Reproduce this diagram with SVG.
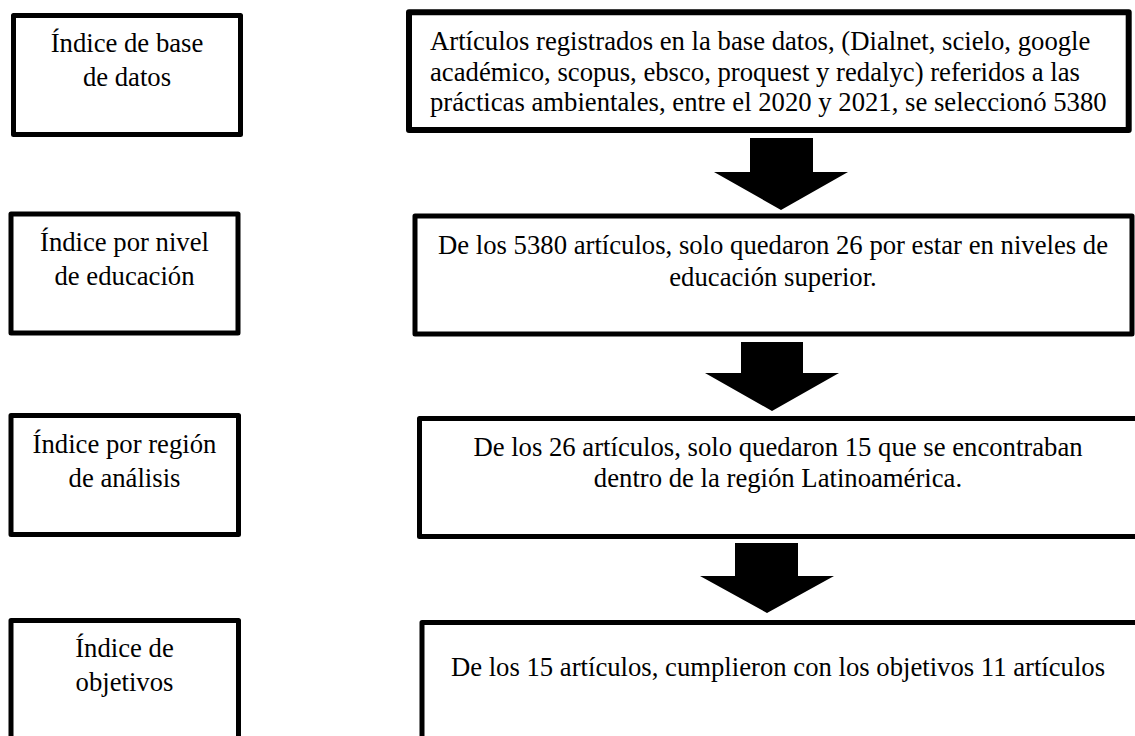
<svg xmlns="http://www.w3.org/2000/svg" width="1135" height="736" viewBox="0 0 1135 736">
<style>
.box{fill:#fff;stroke:#000;stroke-width:5;stroke-linejoin:round}
.t{font-family:"Liberation Serif","Times New Roman",serif;font-size:26.7px;fill:#000}
.c{text-anchor:middle}
.arrow{fill:#000;stroke:none}
</style>
<rect width="1135" height="736" fill="#fff"/>
<g id="left1">
<rect class="box" x="13.5" y="15.5" width="227" height="119"/>
<text class="t c" x="127" y="52">Índice de base</text>
<text class="t c" x="127" y="86">de datos</text>
</g>
<g id="left2">
<rect class="box" x="11" y="214" width="227" height="119"/>
<text class="t c" x="124.5" y="251">Índice por nivel</text>
<text class="t c" x="124.5" y="285">de educación</text>
</g>
<g id="left3">
<rect class="box" x="11" y="415.5" width="227.5" height="119"/>
<text class="t c" x="124.5" y="453">Índice por región</text>
<text class="t c" x="124.5" y="487">de análisis</text>
</g>
<g id="left4">
<rect class="box" x="11" y="620.5" width="227.5" height="140"/>
<text class="t c" x="124.5" y="657">Índice de</text>
<text class="t c" x="124.5" y="691">objetivos</text>
</g>
<g id="right1">
<rect class="box" style="stroke-width:6" x="409" y="12.3" width="719.7" height="117.7"/>
<text class="t" x="430" y="50">Artículos registrados en la base datos, (Dialnet, scielo, google</text>
<text class="t" x="430" y="81">académico, scopus, ebsco, proquest y redalyc) referidos a las</text>
<text class="t" x="430" y="111">prácticas ambientales, entre el 2020 y 2021, se seleccionó 5380</text>
</g>
<g id="right2">
<rect class="box" x="415" y="216" width="717" height="118"/>
<text class="t c" x="773" y="254">De los 5380 artículos, solo quedaron 26 por estar en niveles de</text>
<text class="t c" x="773" y="286">educación superior.</text>
</g>
<g id="right3">
<rect class="box" x="419.5" y="418.5" width="760" height="118"/>
<text class="t c" x="778" y="456">De los 26 artículos, solo quedaron 15 que se encontraban</text>
<text class="t c" x="778" y="487">dentro de la región Latinoamérica.</text>
</g>
<g id="right4">
<rect class="box" x="422" y="622.5" width="760" height="200"/>
<text class="t c" x="778" y="676">De los 15 artículos, cumplieron con los objetivos 11 artículos</text>
</g>
<g id="connectors">
<polygon class="arrow" points="750,138 813,138 813,172 848,172 781,210 714,172 750,172"/>
<polygon class="arrow" points="741,342 803,342 803,373 839,373 772,411 705,373 741,373"/>
<polygon class="arrow" points="735,543 798,543 798,576 834,576 767,613 700,576 735,576"/>
</g>
</svg>
